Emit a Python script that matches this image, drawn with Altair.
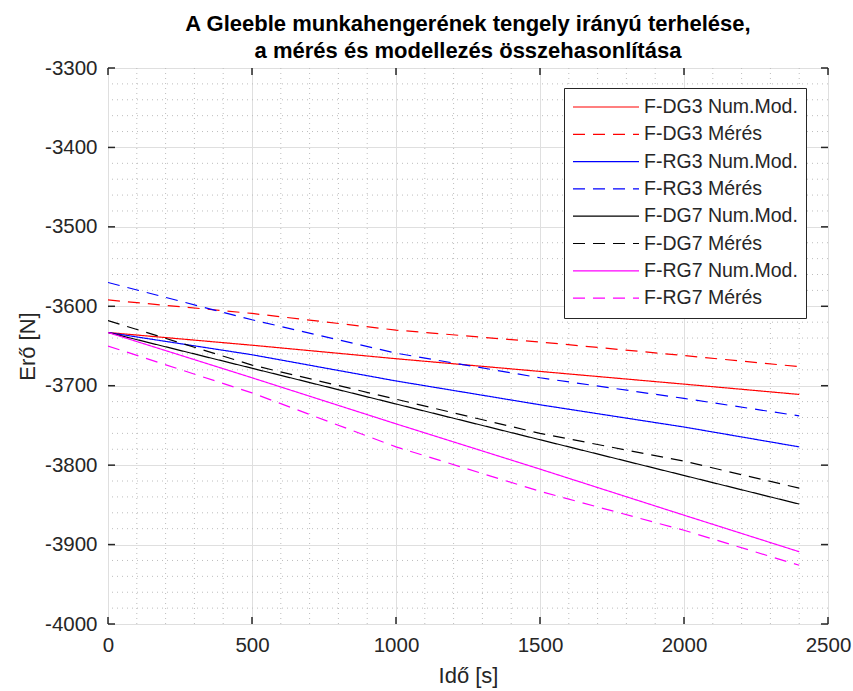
import altair as alt
import pandas as pd

# ---- data ----
time_s = [0, 500, 1000, 1500, 2000, 2400]

f_dg3_num = [-3633, -3649, -3666, -3682, -3698, -3711]
f_dg3_meres = [-3592, -3609, -3630, -3645, -3662, -3676]
f_rg3_num = [-3633, -3661, -3694, -3724, -3752, -3777]
f_rg3_meres = [-3570, -3617, -3659, -3690, -3716, -3738]
f_dg7_num = [-3633, -3678, -3723, -3768, -3813, -3849]
f_dg7_meres = [-3618, -3674, -3717, -3760, -3795, -3829]
f_rg7_num = [-3633, -3690, -3748, -3805, -3863, -3909]
f_rg7_meres = [-3650, -3709, -3777, -3833, -3882, -3926]

series_names = [
    "F-DG3 Num.Mod.", "F-DG3 Mérés",
    "F-RG3 Num.Mod.", "F-RG3 Mérés",
    "F-DG7 Num.Mod.", "F-DG7 Mérés",
    "F-RG7 Num.Mod.", "F-RG7 Mérés",
]
series_values = [
    f_dg3_num, f_dg3_meres, f_rg3_num, f_rg3_meres,
    f_dg7_num, f_dg7_meres, f_rg7_num, f_rg7_meres,
]
series_colors = ["#ff0000", "#ff0000", "#0000ff", "#0000ff",
                 "#000000", "#000000", "#ff00ff", "#ff00ff"]
series_dash = [[1, 0], [12, 8], [1, 0], [12, 8],
               [1, 0], [12, 8], [1, 0], [12, 8]]

x_major = [0, 500, 1000, 1500, 2000, 2500]
y_major = [-4000, -3900, -3800, -3700, -3600, -3500, -3400, -3300]
x_minor = [v for v in range(0, 2501, 100) if v % 500 != 0]
y_minor = [v for v in range(-4000, -3299, 20) if v % 100 != 0]

title_lines = ["A Gleeble munkahengerének tengely irányú terhelése,",
               "a mérés és modellezés összehasonlítása"]
x_title = "Idő [s]"
y_title = "Erő [N]"

rows = []
for name, vals in zip(series_names, series_values):
    for t, v in zip(time_s, vals):
        rows.append({"series": name, "t": t, "F": v})
df = pd.DataFrame(rows)

FONT = "Liberation Sans"
TXT = "#262626"
W, H = 720, 556

xscale = alt.Scale(domain=[0, 2500], nice=False, zero=False)
yscale = alt.Scale(domain=[-4000, -3300], nice=False, zero=False)

xaxis = alt.Axis(
    values=x_major, title=x_title, grid=True, gridColor="#dfdfdf",
    gridWidth=1, domain=False, ticks=False, labelFontSize=20.5,
    labelFont=FONT, labelColor=TXT, labelPadding=11, titleFont=FONT,
    titleFontSize=22, titleFontWeight="normal", titleColor=TXT,
    titlePadding=10, labelExpr="toString(datum.value)", labelFlush=False)
yaxis = alt.Axis(
    values=y_major, title=y_title, grid=True, gridColor="#dfdfdf",
    gridWidth=1, domain=False, ticks=False, labelFontSize=20.5,
    labelFont=FONT, labelColor=TXT, labelPadding=11, titleFont=FONT,
    titleFontSize=22, titleFontWeight="normal", titleColor=TXT,
    titlePadding=5, labelExpr="toString(datum.value)", labelFlush=False)

legend = alt.Legend(
    title=None, orient="none", legendX=456, legendY=20,
    symbolType="stroke", symbolSize=4356, symbolStrokeWidth=1.2,
    labelFontSize=19.5, labelFont=FONT, labelColor=TXT, labelLimit=400,
    strokeColor="#262626", fillColor="#ffffff", padding=8,
    rowPadding=5.3, labelOffset=4, clipHeight=22,
)

lines = alt.Chart(df).mark_line(strokeWidth=1.2, clip=True).encode(
    x=alt.X("t:Q", scale=xscale, axis=xaxis),
    y=alt.Y("F:Q", scale=yscale, axis=yaxis),
    color=alt.Color("series:N", sort=series_names,
                    scale=alt.Scale(domain=series_names, range=series_colors),
                    legend=legend),
    strokeDash=alt.StrokeDash("series:N", sort=series_names,
                              scale=alt.Scale(domain=series_names, range=series_dash),
                              legend=legend),
)

xminor_df = pd.DataFrame({"v": x_minor})
yminor_df = pd.DataFrame({"v": y_minor})
xmajor_df = pd.DataFrame({"v": x_major})
ymajor_df = pd.DataFrame({"v": y_major})

grid_x = alt.Chart(xminor_df).mark_rule(color="#bdbdbd", strokeDash=[1, 4], strokeWidth=1).encode(
    x=alt.X("v:Q", scale=xscale, axis=xaxis))
grid_y = alt.Chart(yminor_df).mark_rule(color="#bdbdbd", strokeDash=[1, 4], strokeWidth=1).encode(
    y=alt.Y("v:Q", scale=yscale, axis=yaxis))

tick_len = 7
tick_style = dict(color=TXT, strokeWidth=1.5)
ticks_bottom = alt.Chart(xmajor_df).mark_rule(**tick_style).encode(
    x=alt.X("v:Q", scale=xscale, axis=xaxis), y=alt.value(H), y2=alt.value(H - tick_len))
ticks_top = alt.Chart(xmajor_df).mark_rule(**tick_style).encode(
    x=alt.X("v:Q", scale=xscale, axis=xaxis), y=alt.value(0), y2=alt.value(tick_len))
ticks_left = alt.Chart(ymajor_df).mark_rule(**tick_style).encode(
    y=alt.Y("v:Q", scale=yscale, axis=yaxis), x=alt.value(0), x2=alt.value(tick_len))
ticks_right = alt.Chart(ymajor_df).mark_rule(**tick_style).encode(
    y=alt.Y("v:Q", scale=yscale, axis=yaxis), x=alt.value(W), x2=alt.value(W - tick_len))

chart = alt.layer(
    grid_x, grid_y, lines, ticks_bottom, ticks_top, ticks_left, ticks_right
).properties(
    width=W, height=H,
    title=alt.TitleParams(text=title_lines, font=FONT, fontSize=22, fontWeight="bold",
                          color="#000000", anchor="middle", lineHeight=27, offset=6, dy=11),
    autosize=alt.AutoSizeParams(type="none"),
    padding={"left": 108, "top": 68, "right": 25, "bottom": 67},
).configure_view(
    stroke="#262626", strokeWidth=1.5
).configure(background="#ffffff")

chart.save("out.html", embed_options={"renderer": "svg", "actions": False})
